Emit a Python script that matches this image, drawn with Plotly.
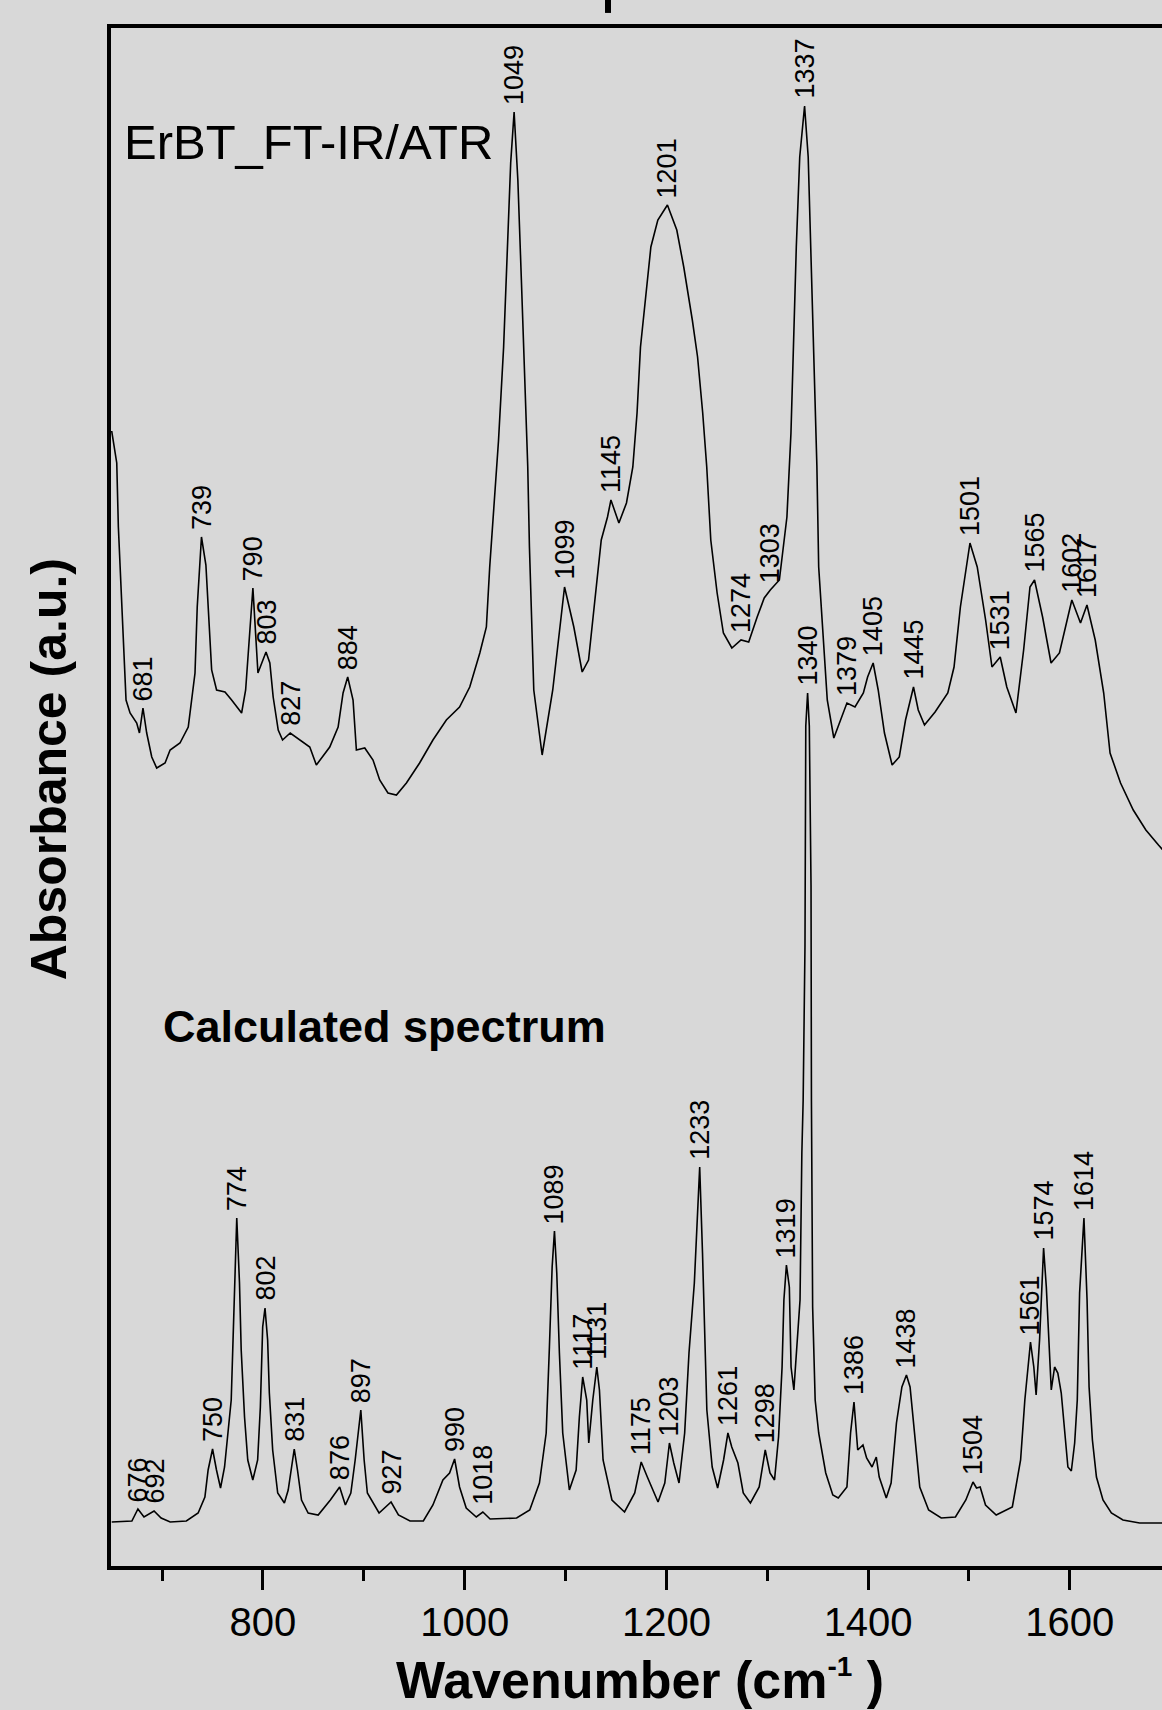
import numpy as np
import plotly.graph_objects as go

# ---------------- data ----------------
exp_wavenumber = [650.0, 652.0, 655.0, 656.6, 660.0, 662.3, 664.2, 668.2, 674.8, 677.5,
                  681.0, 684.7, 689.7, 694.6, 702.9, 707.9, 717.7, 725.9, 732.6, 734.8,
                  739.0, 743.4, 745.7, 749.1, 754.0, 762.3, 768.9, 778.8, 782.8, 786.3,
                  790.0, 795.0, 803.0, 806.8, 810.1, 815.1, 819.4, 827.0, 836.5, 846.4,
                  852.9, 866.2, 874.5, 879.4, 884.0, 889.3, 892.6, 900.9, 909.1, 915.7,
                  923.9, 932.3, 942.2, 955.3, 968.5, 981.8, 994.9, 1005.0, 1015.0, 1021.5,
                  1024.8, 1029.5, 1033.5, 1038.6, 1042.1, 1045.6, 1049.0, 1052.7, 1056.2, 1059.8,
                  1062.5, 1064.2, 1068.5, 1076.8, 1087.3, 1095.6, 1099.0, 1108.2, 1116.5, 1122.8,
                  1129.1, 1135.4, 1141.6, 1145.0, 1152.9, 1160.4, 1166.7, 1170.9, 1174.3, 1179.5,
                  1184.6, 1191.5, 1201.0, 1210.3, 1217.2, 1225.7, 1230.9, 1236.0, 1240.0, 1244.0,
                  1250.3, 1256.5, 1264.9, 1274.0, 1281.6, 1290.0, 1297.0, 1303.0, 1312.0, 1319.5,
                  1323.5, 1325.5, 1328.8, 1332.2, 1337.0, 1340.6, 1344.0, 1347.4, 1349.2, 1351.0,
                  1355.0, 1359.5, 1366.0, 1372.3, 1379.0, 1387.0, 1395.3, 1399.5, 1405.0, 1410.0,
                  1416.2, 1423.8, 1430.9, 1437.1, 1445.0, 1449.7, 1455.9, 1466.4, 1479.0, 1485.2,
                  1491.5, 1501.0, 1508.2, 1516.5, 1522.8, 1531.0, 1537.5, 1546.6, 1554.2, 1560.5,
                  1565.0, 1573.0, 1581.4, 1589.7, 1595.9, 1602.0, 1610.6, 1617.0, 1625.2, 1633.6,
                  1639.9, 1650.3, 1662.9, 1675.4, 1687.9, 1695.0]
exp_absorbance = [113.5, 112.0, 110.3, 103.9, 96.6, 91.3, 86.6, 85.3, 84.3, 83.3,
                  85.8, 83.3, 80.9, 79.8, 80.3, 81.6, 82.3, 83.9, 89.3, 95.9,
                  102.9, 100.1, 95.6, 89.6, 87.6, 87.4, 86.6, 85.3, 87.6, 92.9,
                  97.8, 89.3, 91.4, 90.3, 86.9, 83.6, 82.6, 83.3, 82.6, 81.9,
                  80.1, 81.9, 83.9, 87.3, 88.9, 86.6, 81.6, 81.8, 80.6, 78.6,
                  77.3, 77.1, 78.3, 80.3, 82.6, 84.6, 85.9, 87.9, 91.3, 93.9,
                  99.9, 106.6, 112.5, 121.9, 131.9, 140.3, 145.4, 138.6, 128.6, 118.6,
                  110.0, 101.9, 87.6, 81.1, 87.6, 94.9, 97.9, 93.9, 89.4, 90.6,
                  96.6, 102.6, 104.9, 106.6, 104.3, 106.3, 109.9, 115.3, 121.9, 126.9,
                  131.9, 134.6, 136.1, 133.6, 129.9, 124.6, 120.9, 115.3, 109.9, 102.6,
                  97.3, 93.3, 91.8, 92.6, 92.4, 94.9, 96.8, 97.6, 98.6, 104.9,
                  113.3, 120.3, 131.9, 140.9, 146.0, 140.9, 127.9, 117.6, 110.0, 99.9,
                  93.3, 86.6, 82.8, 84.6, 86.3, 85.9, 87.3, 88.9, 90.3, 87.6,
                  83.3, 80.1, 80.9, 84.6, 87.9, 85.6, 84.1, 85.4, 87.3, 89.9,
                  95.9, 102.3, 99.9, 94.6, 89.9, 90.9, 87.9, 85.3, 91.6, 97.9,
                  98.6, 94.9, 90.3, 91.3, 93.9, 96.6, 94.3, 96.1, 92.6, 87.3,
                  81.3, 78.3, 75.6, 73.6, 72.1, 71.3]

calc_wavenumber = [650.0, 670.0, 676.0, 682.0, 692.0, 699.0, 708.0, 724.0, 735.7, 742.4,
                   745.6, 750.0, 753.9, 757.9, 761.9, 765.1, 768.5, 770.1, 771.8, 774.0,
                   776.7, 778.4, 781.7, 784.9, 789.9, 794.7, 797.4, 799.7, 802.0, 804.6,
                   806.3, 809.6, 814.6, 821.2, 825.0, 828.3, 831.0, 834.2, 838.2, 844.8,
                   854.7, 866.8, 876.0, 881.7, 887.1, 891.4, 897.0, 900.3, 903.5, 915.1,
                   927.0, 934.3, 945.8, 959.0, 968.5, 978.4, 985.0, 990.0, 994.9, 1001.5,
                   1011.5, 1018.0, 1025.2, 1051.5, 1064.5, 1074.1, 1080.8, 1084.0, 1086.7, 1089.0,
                   1091.3, 1093.9, 1097.2, 1103.8, 1110.5, 1113.7, 1117.0, 1121.0, 1123.0, 1127.0,
                   1131.0, 1133.6, 1137.2, 1146.0, 1158.5, 1168.6, 1175.0, 1181.1, 1191.7, 1198.4,
                   1203.0, 1207.3, 1212.5, 1218.1, 1222.4, 1227.7, 1230.2, 1233.0, 1235.8, 1238.3,
                   1240.1, 1245.4, 1250.8, 1256.7, 1261.0, 1264.8, 1270.9, 1276.2, 1283.3, 1292.0,
                   1298.0, 1302.7, 1307.2, 1311.2, 1314.7, 1316.5, 1319.0, 1321.9, 1323.6, 1326.4,
                   1330.7, 1332.5, 1334.3, 1335.6, 1337.4, 1338.2, 1340.0, 1341.7, 1343.4, 1343.8,
                   1345.0, 1347.5, 1351.0, 1358.0, 1365.0, 1370.4, 1379.0, 1382.6, 1386.0, 1389.7,
                   1394.9, 1398.5, 1403.9, 1408.1, 1411.0, 1418.0, 1422.8, 1428.1, 1433.5, 1438.0,
                   1441.6, 1445.8, 1451.2, 1460.0, 1472.5, 1486.6, 1496.9, 1504.0, 1507.5, 1511.1,
                   1516.4, 1527.0, 1543.0, 1551.2, 1555.4, 1561.0, 1564.3, 1566.6, 1570.0, 1574.0,
                   1576.7, 1578.9, 1581.6, 1584.9, 1588.1, 1591.5, 1594.8, 1598.1, 1601.5, 1604.8,
                   1607.4, 1609.7, 1614.0, 1617.1, 1619.1, 1622.4, 1626.4, 1632.9, 1641.2, 1652.7,
                   1669.2, 1695.0]
calc_absorbance = [4.4, 4.5, 5.7, 4.9, 5.5, 4.8, 4.4, 4.5, 5.3, 6.9,
                   9.6, 11.7, 9.6, 7.8, 9.9, 13.3, 16.6, 21.9, 28.3, 34.8,
                   28.3, 21.6, 14.9, 10.6, 8.6, 10.6, 15.9, 23.9, 25.8, 22.6,
                   17.3, 11.6, 7.3, 6.3, 7.6, 9.9, 11.7, 9.6, 6.6, 5.3,
                   5.1, 6.6, 7.9, 6.1, 7.3, 10.6, 15.6, 10.6, 7.3, 5.3,
                   6.4, 5.1, 4.5, 4.5, 6.1, 8.6, 9.3, 10.7, 7.9, 5.8,
                   4.9, 5.4, 4.7, 4.8, 5.6, 8.3, 13.3, 21.9, 29.9, 33.5,
                   29.3, 21.3, 13.3, 7.6, 9.6, 14.9, 18.9, 16.6, 12.3, 16.6,
                   19.9, 17.6, 10.6, 6.6, 5.4, 7.3, 10.4, 8.9, 6.4, 8.3,
                   12.3, 10.3, 8.3, 13.3, 21.3, 28.3, 34.3, 39.9, 31.3, 21.9,
                   15.6, 9.9, 7.8, 10.6, 13.3, 11.9, 10.3, 7.3, 6.3, 7.9,
                   11.6, 9.3, 8.6, 12.9, 19.9, 26.6, 30.1, 27.9, 19.9, 17.6,
                   23.3, 26.6, 41.3, 46.6, 62.0, 84.0, 87.3, 84.0, 68.0, 46.6,
                   25.9, 16.6, 13.3, 9.3, 7.1, 6.8, 7.9, 13.3, 16.4, 11.6,
                   12.1, 10.8, 9.9, 10.9, 8.9, 6.8, 8.3, 14.3, 17.9, 19.1,
                   17.9, 13.3, 7.9, 5.6, 4.8, 4.9, 6.6, 8.4, 7.8, 7.9,
                   6.1, 5.1, 5.9, 10.6, 16.6, 22.4, 19.9, 17.1, 22.6, 31.8,
                   27.9, 23.3, 17.6, 19.9, 19.3, 17.3, 13.3, 9.9, 9.5, 12.3,
                   16.6, 27.3, 34.8, 26.6, 17.9, 12.6, 8.9, 6.6, 5.3, 4.6,
                   4.3, 4.3]

exp_peak_labels = [681, 739, 790, 803, 827, 884, 1049, 1099, 1145, 1201, 1274, 1303,
                   1337, 1379, 1405, 1445, 1501, 1531, 1565, 1602, 1617]
calc_peak_labels = [676, 692, 750, 774, 802, 831, 876, 897, 927, 990, 1018, 1089, 1117,
                    1131, 1175, 1203, 1233, 1261, 1298, 1319, 1340, 1386, 1438, 1504,
                    1561, 1574, 1614]

x_major_ticks = [800, 1000, 1200, 1400, 1600]
x_tick_labels = ["800", "1000", "1200", "1400", "1600"]

# ---------------- figure ----------------
FONT = "Liberation Sans, Arial, Helvetica, sans-serif"
BG = "#d8d8d8"

fig = go.Figure()
fig.add_trace(go.Scatter(x=exp_wavenumber, y=exp_absorbance, mode="lines",
                         line=dict(color="black", width=1.6), showlegend=False,
                         hoverinfo="skip"))
fig.add_trace(go.Scatter(x=calc_wavenumber, y=calc_absorbance, mode="lines",
                         line=dict(color="black", width=1.6), showlegend=False,
                         hoverinfo="skip"))

annotations = []
for series_w, series_v, labels in ((exp_wavenumber, exp_absorbance, exp_peak_labels),
                                   (calc_wavenumber, calc_absorbance, calc_peak_labels)):
    for lab in labels:
        yv = float(np.interp(lab, series_w, series_v))
        annotations.append(dict(x=lab, y=yv, xref="x", yref="y", text=str(lab),
                                textangle=-90, showarrow=False, xanchor="center",
                                yanchor="bottom", yshift=5,
                                font=dict(family=FONT, size=27, color="black")))

annotations += [
    dict(x=0.0105, y=0.926, xref="paper", yref="paper", text="ErBT_FT-IR/ATR",
         showarrow=False, xanchor="left", yanchor="middle",
         font=dict(family=FONT, size=49, color="black")),
    dict(x=0.0476, y=0.3505, xref="paper", yref="paper", text="<b>Calculated spectrum</b>",
         showarrow=False, xanchor="left", yanchor="middle",
         font=dict(family=FONT, size=45, color="black")),
    dict(x=-0.059, y=0.518, xref="paper", yref="paper", text="<b>Absorbance (a.u.)</b>",
         textangle=-90, showarrow=False, xanchor="center", yanchor="middle",
         font=dict(family=FONT, size=50, color="black")),
    dict(x=0.503, y=-0.074, xref="paper", yref="paper",
         text="<b>Wavenumber (cm<sup><span style='font-size:28px'>-1</span></sup> )</b>",
         showarrow=False, xanchor="center", yanchor="middle",
         font=dict(family=FONT, size=52, color="black")),
]

fig.update_layout(
    width=1162, height=1710,
    margin=dict(l=111, r=0, t=28, b=144, pad=0),
    paper_bgcolor=BG, plot_bgcolor=BG,
    showlegend=False,
    annotations=annotations,
    shapes=[dict(type="line", xref="paper", yref="paper", x0=0.4729, x1=0.4729,
                 y0=1.0098, y1=1.02, line=dict(color="black", width=6))],
    font=dict(family=FONT, color="black"),
)
fig.update_xaxes(range=[649.3, 1691.4], showgrid=False, zeroline=False,
                 showline=True, linewidth=4, linecolor="black", mirror=True,
                 ticks="outside", ticklen=20, tickwidth=3, tickcolor="black",
                 tickmode="array", tickvals=x_major_ticks, ticktext=x_tick_labels,
                 tickfont=dict(family=FONT, size=40, color="black"),
                 ticklabelstandoff=-2,
                 minor=dict(ticks="outside", ticklen=11, tickwidth=3, tickcolor="black",
                            tickmode="linear", tick0=700, dtick=100, showgrid=False))
fig.update_yaxes(range=[0, 153.8], showgrid=False, zeroline=False,
                 showline=True, linewidth=4, linecolor="black", mirror=False,
                 ticks="", showticklabels=False)

fig.write_html(
    "out.html",
    config={"displayModeBar": False},
    post_script="document.body.style.margin='0px';"
                "document.documentElement.style.overflow='hidden';"
                "document.body.style.background='" + BG + "';",
)
